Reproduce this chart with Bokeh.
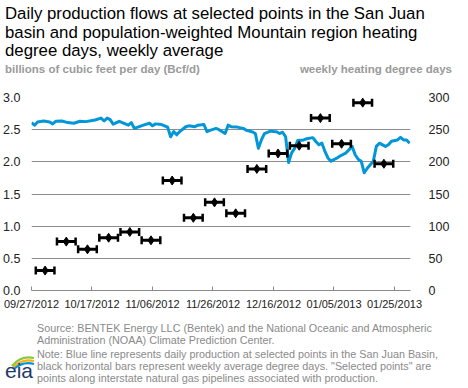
import pandas as pd
from bokeh.plotting import figure
from bokeh.layouts import column
from bokeh.models import (Range1d, LinearAxis, FixedTicker, NumeralTickFormatter,
                          DatetimeTickFormatter, ColumnDataSource, Div)
from bokeh.embed import file_html
from bokeh.resources import INLINE

# ---------------- data ----------------
title_lines = [
    "Daily production flows at selected points in the San Juan",
    "basin and population-weighted Mountain region heating",
    "degree days, weekly average",
]
left_unit = "billions of cubic feet per day (Bcf/d)"
right_unit = "weekly heating degree days"
source_lines = [
    "Source: BENTEK Energy LLC (Bentek) and the National Oceanic and Atmospheric",
    "Administration (NOAA) Climate Prediction Center.",
]
note_lines = [
    "Note: Blue line represents daily production at selected points in the San Juan Basin,",
    "black horizontal bars represent weekly average degree days. \"Selected points\" are",
    "points along interstate natural gas pipelines associated with production.",
]

prod_dates = [
    "2012-09-27", "2012-09-28", "2012-09-29", "2012-10-01", "2012-10-03", "2012-10-04",
    "2012-10-05", "2012-10-07", "2012-10-09", "2012-10-11", "2012-10-13", "2012-10-15",
    "2012-10-18", "2012-10-20", "2012-10-21", "2012-10-22", "2012-10-23", "2012-10-24",
    "2012-10-26", "2012-10-28", "2012-10-29", "2012-10-30", "2012-10-31", "2012-11-03",
    "2012-11-05", "2012-11-06", "2012-11-07", "2012-11-09", "2012-11-11", "2012-11-12",
    "2012-11-13", "2012-11-14", "2012-11-15", "2012-11-17", "2012-11-18", "2012-11-20",
    "2012-11-21", "2012-11-23", "2012-11-24", "2012-11-25", "2012-11-27", "2012-11-28",
    "2012-11-30", "2012-12-01", "2012-12-02", "2012-12-04", "2012-12-06", "2012-12-07",
    "2012-12-08", "2012-12-09", "2012-12-10", "2012-12-11", "2012-12-12", "2012-12-13",
    "2012-12-15", "2012-12-16", "2012-12-17", "2012-12-18", "2012-12-19", "2012-12-20",
    "2012-12-21", "2012-12-22", "2012-12-23", "2012-12-24", "2012-12-26", "2012-12-27",
    "2012-12-29", "2012-12-30", "2012-12-31", "2013-01-01", "2013-01-02", "2013-01-03",
    "2013-01-04", "2013-01-06", "2013-01-07", "2013-01-09", "2013-01-10", "2013-01-11",
    "2013-01-12", "2013-01-13", "2013-01-14", "2013-01-15", "2013-01-16", "2013-01-18",
    "2013-01-19", "2013-01-20", "2013-01-22", "2013-01-23", "2013-01-24", "2013-01-26",
    "2013-01-27", "2013-01-28", "2013-01-29", "2013-01-30",
]
prod_values = [
    2.61, 2.57, 2.62, 2.635, 2.62, 2.59,
    2.63, 2.635, 2.61, 2.60, 2.63, 2.625,
    2.65, 2.68, 2.635, 2.68, 2.655, 2.585,
    2.63, 2.59, 2.57, 2.61, 2.52, 2.57,
    2.60, 2.56, 2.59, 2.58, 2.54, 2.39,
    2.47, 2.42, 2.47, 2.545, 2.56, 2.545,
    2.57, 2.58, 2.47, 2.49, 2.52, 2.50,
    2.44, 2.57, 2.545, 2.54, 2.52, 2.49,
    2.48, 2.465, 2.44, 2.21, 2.34, 2.44,
    2.478, 2.47, 2.467, 2.44, 2.46, 2.39,
    1.99, 2.14, 2.21, 2.33, 2.34, 2.36,
    2.376, 2.316, 2.265, 2.29, 2.164, 2.06,
    2.01, 2.06, 2.09, 2.14, 2.19, 2.24,
    2.11, 2.04, 2.01, 1.83, 1.90, 2.01,
    2.24, 2.29, 2.24, 2.265, 2.32, 2.34,
    2.38, 2.34, 2.34, 2.29,
]

week_starts = [
    "2012-09-28", "2012-10-05", "2012-10-12", "2012-10-19", "2012-10-26", "2012-11-02",
    "2012-11-09", "2012-11-16", "2012-11-23", "2012-11-30", "2012-12-07", "2012-12-14",
    "2012-12-21", "2012-12-28", "2013-01-04", "2013-01-11", "2013-01-18",
]
hdd_values = [31, 76, 64, 82, 91, 78, 171, 113, 137, 120, 189, 213, 225, 268, 228, 292, 197]

x_tick_dates = ["2012-09-27", "2012-10-17", "2012-11-06", "2012-11-26",
                "2012-12-16", "2013-01-05", "2013-01-25"]
left_ticks = [0.0, 0.5, 1.0, 1.5, 2.0, 2.5, 3.0]
right_ticks = [0, 50, 100, 150, 200, 250, 300]

# ---------------- style ----------------
FONT = "Liberation Sans"
CSSFONT = "'Liberation Sans', Arial, sans-serif"
BLUE = "#0096d7"
GRID = "#8c8c8c"
W = 452
TOP_H, MAIN_H, BOT_H = 82, 221, 68

# ---------------- top text ----------------
top_html = (
    f'<div style="margin:0;padding:0;width:{W}px;font-family:{CSSFONT};white-space:nowrap;">'
    f'<div style="font-size:16.8px;line-height:18.5px;color:#000;">'
    + "<br>".join(title_lines) +
    '</div>'
    '<div style="position:relative;height:13px;margin-top:2.5px;font-size:11.5px;'
    'line-height:13px;font-weight:bold;color:#9a9a9a;">'
    f'<span style="position:absolute;left:0;top:0;">{left_unit}</span>'
    f'<span style="position:absolute;right:5px;top:0;">{right_unit}</span>'
    '</div></div>'
)
top = Div(text=top_html, width=W, height=TOP_H)

# ---------------- main chart ----------------
x_start = pd.Timestamp("2012-09-27")
x_end = pd.Timestamp("2013-01-30 07:00")

p = figure(width=W, height=MAIN_H, output_backend="svg", toolbar_location=None,
           x_axis_type="datetime", x_range=Range1d(x_start, x_end),
           y_range=Range1d(0, 3),
           min_border_left=26, min_border_right=39,
           min_border_top=5, min_border_bottom=23)
p.outline_line_color = None
p.background_fill_color = "white"
p.border_fill_color = "white"
p.extra_y_ranges = {"hdd": Range1d(0, 300)}

src_prod = ColumnDataSource(dict(x=pd.to_datetime(prod_dates), y=prod_values))
p.line("x", "y", source=src_prod, line_color=BLUE, line_width=3, line_join="round")

ws = pd.to_datetime(week_starts)
mid = ws + pd.Timedelta(hours=84)
half = pd.Timedelta(hours=74)
src_hdd = ColumnDataSource(dict(mid=mid, x0=mid - half, x1=mid + half, y=hdd_values))
p.segment(x0="x0", y0="y", x1="x1", y1="y", source=src_hdd, y_range_name="hdd",
          line_color="black", line_width=3)
for col in ("x0", "x1"):
    p.scatter(x=col, y="y", source=src_hdd, y_range_name="hdd", marker="dash",
              angle=1.5708, size=8, line_color="black", line_width=2.5)
p.scatter(x="mid", y="y", source=src_hdd, y_range_name="hdd", marker="diamond",
          size=9, fill_color="black", line_color="black")

xa = p.xaxis[0]
xa.ticker = FixedTicker(ticks=[pd.Timestamp(d).value // 10**6 for d in x_tick_dates])
fmt = "%m/%d/%Y"
xa.formatter = DatetimeTickFormatter(days=fmt, months=fmt, years=fmt, hours=fmt,
                                     hourmin=fmt, minutes=fmt, minsec=fmt,
                                     seconds=fmt, milliseconds=fmt, microseconds=fmt)
xa.axis_line_color = GRID
xa.major_tick_line_color = GRID
xa.major_tick_in = 4
xa.major_tick_out = 0
xa.minor_tick_line_color = None
xa.major_label_text_font = FONT
xa.major_label_text_font_size = "11px"
xa.major_label_text_color = "#222222"
xa.major_label_standoff = 7

ya = p.yaxis[0]
ya.ticker = FixedTicker(ticks=left_ticks)
ya.formatter = NumeralTickFormatter(format="0.0")
ya.axis_line_color = None
ya.major_tick_line_color = None
ya.minor_tick_line_color = None
ya.major_label_text_font = FONT
ya.major_label_text_font_size = "12.5px"
ya.major_label_text_color = "#222222"
ya.major_label_standoff = 5

ra = LinearAxis(y_range_name="hdd", ticker=FixedTicker(ticks=right_ticks))
ra.axis_line_color = None
ra.major_tick_line_color = None
ra.minor_tick_line_color = None
ra.major_label_text_font = FONT
ra.major_label_text_font_size = "12.5px"
ra.major_label_text_color = "#222222"
ra.major_label_standoff = 12
p.add_layout(ra, "right")

p.xgrid.visible = False
p.ygrid.grid_line_color = GRID
p.ygrid.grid_line_width = 1

# ---------------- bottom text ----------------
logo_svg = (
    '<svg width="31" height="31" viewBox="0 0 31 31" '
    'style="position:absolute;left:0;top:35px;">'
    '<path d="M7 13 Q16 2 29 5" stroke="#8dc63f" stroke-width="2.2" fill="none"/>'
    '<path d="M8 14.5 Q17 5 29 8" stroke="#f5b11b" stroke-width="2.2" fill="none"/>'
    '<path d="M9 16 Q18 8 29 11" stroke="#0095da" stroke-width="2.2" fill="none"/>'
    '<text x="0" y="25" font-family="Liberation Serif, serif" font-size="21" '
    'fill="#1d3a6b">eia</text></svg>'
)
bot_html = (
    f'<div style="position:relative;margin:0;padding:0;width:{W}px;height:{BOT_H}px;'
    f'font-family:{CSSFONT};font-size:10.8px;line-height:12px;color:#8a8a8a;white-space:nowrap;">'
    f'<div style="position:absolute;left:32px;top:3.5px;">' + "<br>".join(source_lines) + '</div>'
    f'<div style="position:absolute;left:32px;top:29.5px;">' + "<br>".join(note_lines) + '</div>'
    + logo_svg +
    '</div>'
)
bot = Div(text=bot_html, width=W, height=BOT_H)

layout = column(top, p, bot, spacing=0)
open("out.html", "w").write(file_html(layout, INLINE))
